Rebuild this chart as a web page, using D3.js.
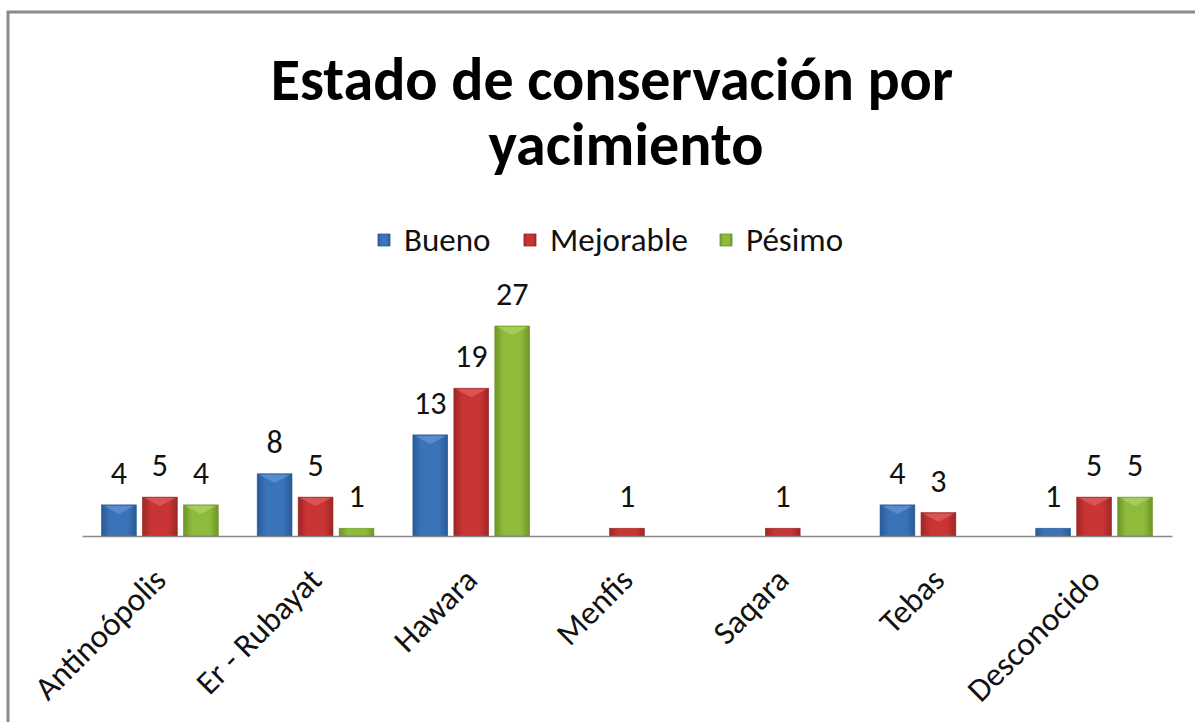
<!DOCTYPE html>
<html><head><meta charset="utf-8">
<script src="https://cdn.jsdelivr.net/npm/d3@7"></script>
<style>body{margin:0;background:#fff}svg{display:block}</style>
</head><body>
<script>
const categories = ["Antinoópolis","Er - Rubayat","Hawara","Menfis","Saqara","Tebas","Desconocido"];
const seriesNames = ["Bueno","Mejorable","Pésimo"];
const bueno     = [4, 8, 13, null, null, 4, 1];
const mejorable = [5, 5, 19, 1, 1, 3, 5];
const pesimo    = [4, 1, 27, null, null, null, 5];
const seriesValues = [bueno, mejorable, pesimo];
const colors = [
  {base:"#3b73b9", light:"#6b9fdc", dark:"#2a5a96"},
  {base:"#c93434", light:"#e86a6a", dark:"#9e2626"},
  {base:"#8fbb3c", light:"#b6d86e", dark:"#6f9427"}
];
const W = 1195, H = 722;
const font = "Carlito, Calibri, 'Open Sans', sans-serif";

const svg = d3.select("body").append("svg").attr("width", W).attr("height", H);
const defs = svg.append("defs");
colors.forEach((c,i)=>{
  const g = defs.append("linearGradient").attr("id","g"+i).attr("x1",0).attr("x2",1).attr("y1",0).attr("y2",0);
  g.append("stop").attr("offset","0%").attr("stop-color",c.dark);
  g.append("stop").attr("offset","25%").attr("stop-color",c.base);
  g.append("stop").attr("offset","75%").attr("stop-color",c.base);
  g.append("stop").attr("offset","100%").attr("stop-color",c.dark);
});

// frame
svg.append("rect").attr("x",8).attr("y",12).attr("width",W+20).attr("height",H+20)
  .attr("fill","#fff").attr("stroke","#8a8a8a").attr("stroke-width",3);

// title
svg.append("text").attr("text-anchor","middle").attr("font-family",font)
  .attr("font-weight","bold").attr("font-size",60).attr("fill","#000")
  .attr("x",612).attr("y",100).text("Estado de conservación por");
svg.append("text").attr("text-anchor","middle").attr("font-family",font)
  .attr("font-weight","bold").attr("font-size",60).attr("fill","#000")
  .attr("x",626).attr("y",165).text("yacimiento");

// scales
const x0 = d3.scaleBand().domain(categories).range([82,1172]).paddingInner(0.25).paddingOuter(0.125);
const x1 = d3.scaleBand().domain(seriesNames).range([0,x0.bandwidth()]).paddingInner(0.15);
const y = d3.scaleLinear().domain([0,27]).range([536,326]);

// legend
const legendX = [378, 524, 720];
const lg = svg.append("g");
seriesNames.forEach((s,i)=>{
  lg.append("rect").attr("x",legendX[i]).attr("y",234).attr("width",12).attr("height",12)
    .attr("fill","url(#g"+i+")").attr("stroke",colors[i].dark).attr("stroke-width",0.8);
  lg.append("text").attr("x",legendX[i]+26).attr("y",251).attr("font-family",font)
    .attr("font-size",33).attr("fill","#111").text(s);
});

// bars
const data = [];
categories.forEach((c,ci)=>seriesNames.forEach((s,si)=>{
  const v = seriesValues[si][ci];
  if (v != null) data.push({c, s, si, v});
}));
const bars = svg.append("g");
bars.selectAll("rect.bar").data(data).join("rect").attr("class","bar")
  .attr("x", d=>x0(d.c)+x1(d.s)).attr("width", x1.bandwidth())
  .attr("y", d=>y(d.v)).attr("height", d=>y(0)-y(d.v))
  .attr("fill", d=>"url(#g"+d.si+")").attr("stroke", d=>colors[d.si].dark).attr("stroke-width",0.6);
// gloss top
bars.selectAll("path.gloss").data(data.filter(d=>y(0)-y(d.v)>10)).join("path").attr("class","gloss")
  .attr("d", d=>{const bx=x0(d.c)+x1(d.s), bw=x1.bandwidth(), by=y(d.v);
    return `M${bx+2},${by+1}L${bx+bw-2},${by+1}L${bx+bw/2},${by+9}Z`;})
  .attr("fill", d=>colors[d.si].light).attr("opacity",0.6);

// value labels
svg.append("g").selectAll("text").data(data).join("text")
  .attr("x", d=>x0(d.c)+x1(d.s)+x1.bandwidth()/2).attr("y", d=>y(d.v)-21)
  .attr("text-anchor","middle").attr("font-family",font).attr("font-size",32).attr("fill","#111")
  .text(d=>d.v);

// axis
const xAxis = d3.axisBottom(x0).tickSize(0).tickPadding(0);
const ax = svg.append("g").attr("transform","translate(0,536)").call(xAxis);
ax.select(".domain").attr("stroke","#888").attr("stroke-width",1.5);
ax.selectAll(".tick text").attr("font-family",font).attr("font-size",33).attr("fill","#111")
  .attr("text-anchor","end").attr("transform","translate(8,46) rotate(-45)").attr("dy",0).attr("y",0).attr("x",0);
</script>
</body></html>
